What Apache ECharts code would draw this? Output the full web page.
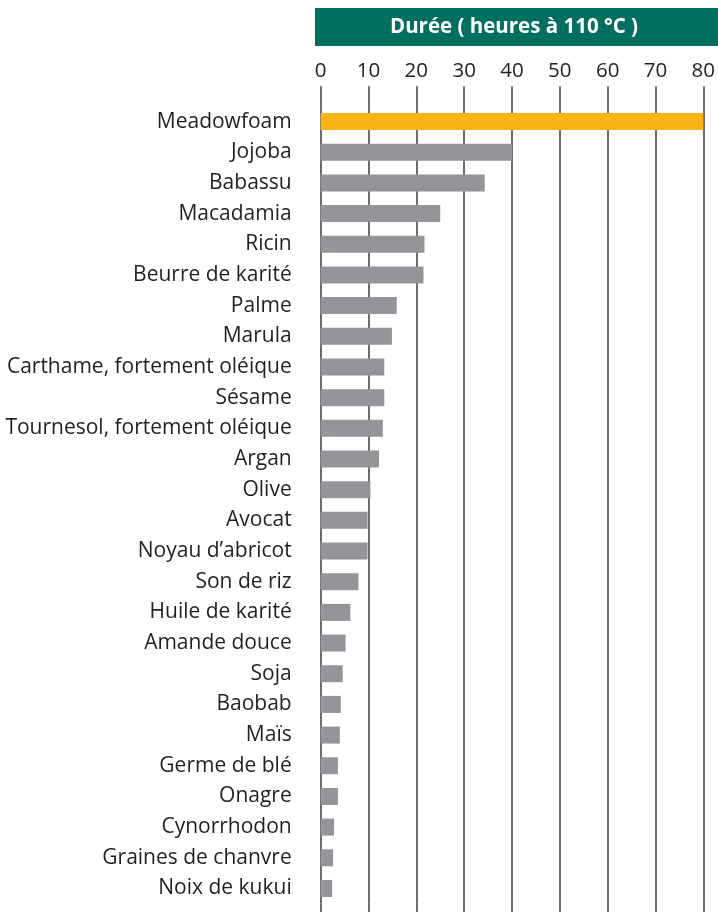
<!DOCTYPE html>
<html>
<head>
<meta charset="utf-8">
<script src="https://cdn.jsdelivr.net/npm/echarts@6/dist/echarts.min.js"></script>
<style>
  html, body { margin: 0; padding: 0; background: #fff; }
  #chart { width: 718px; height: 912px; }
</style>
</head>
<body>
<div id="chart"></div>
<script>
// huiles, de la plus stable a la moins stable
var huiles = ['Meadowfoam', 'Jojoba', 'Babassu', 'Macadamia', 'Ricin', 'Beurre de karité',
  'Palme', 'Marula', 'Carthame, fortement oléique', 'Sésame', 'Tournesol, fortement oléique',
  'Argan', 'Olive', 'Avocat', 'Noyau d\u2019abricot', 'Son de riz', 'Huile de karité',
  'Amande douce', 'Soja', 'Baobab', 'Maïs', 'Germe de blé', 'Onagre', 'Cynorrhodon',
  'Graines de chanvre', 'Noix de kukui'];
// duree en heures a 110 °C
var duree = [80, 40, 34.3, 25, 21.7, 21.5, 15.9, 14.9, 13.3, 13.3, 13, 12.2, 10.4, 9.8, 9.8,
  7.9, 6.2, 5.2, 4.6, 4.2, 4.0, 3.6, 3.6, 2.8, 2.6, 2.4];
var titre = 'Durée ( heures à 110 °C )';

var chart = echarts.init(document.getElementById('chart'), null, { renderer: 'canvas' });

var lineCol = '#3c3c3c';
var police = '"Open Sans", "Noto Sans", sans-serif';

var option = {
  animation: false,
  backgroundColor: '#fff',
  graphic: [
    {
      type: 'rect',
      shape: { x: 315, y: 8, width: 403, height: 38 },
      style: { fill: '#006f5f' }
    },
    {
      type: 'text',
      x: 514, y: 27,
      style: {
        text: titre, fill: '#fff', font: 'bold 20.5px ' + police,
        align: 'center', verticalAlign: 'middle'
      }
    }
  ],
  grid: { left: 320.7, top: 106.2, width: 388, height: 797.6, containLabel: false },
  xAxis: [
    {
      type: 'value', position: 'top', min: 0, max: 80, interval: 10,
      axisLine: { show: false },
      axisTick: { show: true, length: 20, lineStyle: { color: lineCol, width: 1.5 } },
      axisLabel: { margin: 25, fontSize: 20.5, color: '#231f20', fontFamily: police },
      splitLine: { show: true, lineStyle: { color: lineCol, width: 1.5 } }
    },
    {
      type: 'value', position: 'bottom', min: 0, max: 80, interval: 10,
      axisLine: { show: false },
      axisTick: { show: true, length: 9, lineStyle: { color: lineCol, width: 1.5 } },
      axisLabel: { show: false },
      splitLine: { show: false }
    }
  ],
  yAxis: {
    type: 'category', data: huiles, inverse: true,
    axisLine: { show: false }, axisTick: { show: false },
    axisLabel: { margin: 29, fontSize: 21, color: '#231f20', fontFamily: police, padding: [3, 0, 0, 0] }
  },
  series: [{
    type: 'bar', xAxisIndex: 0, data: duree, barWidth: 17,
    itemStyle: {
      color: function (p) { return p.dataIndex === 0 ? '#fbb418' : '#939598'; }
    }
  }]
};
chart.setOption(option);
</script>
</body>
</html>
